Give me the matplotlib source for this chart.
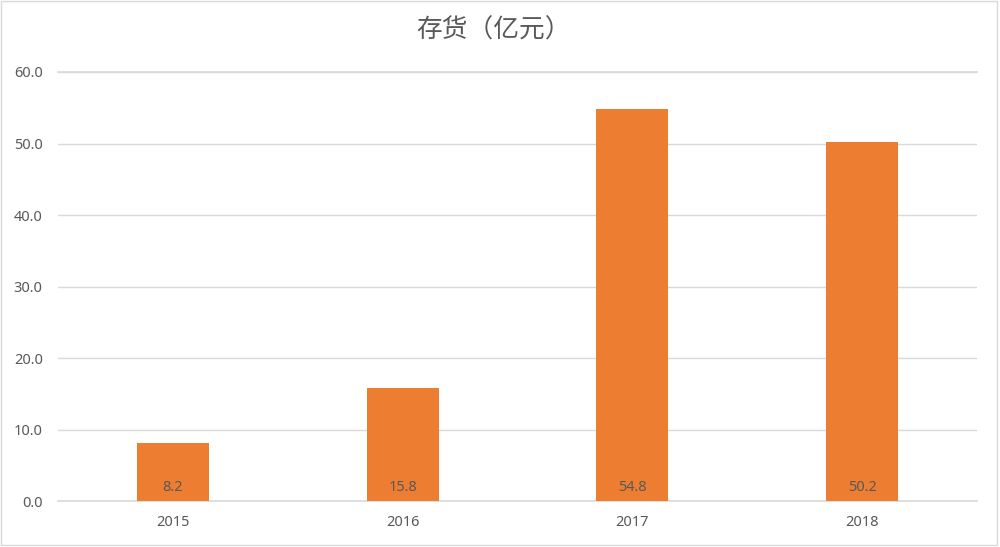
import matplotlib
matplotlib.use("Agg")
import matplotlib.pyplot as plt
from matplotlib.patches import Rectangle

plt.rcParams['font.family'] = ['Noto Sans CJK SC', 'DejaVu Sans']

years = ["2015", "2016", "2017", "2018"]
inventory = [8.2, 15.8, 54.8, 50.2]
title = "存货（亿元）"
yticks = [0, 10, 20, 30, 40, 50, 60]

bar_color = "#ED7D31"
text_color = "#595959"
grid_color = "#D9D9D9"

fig = plt.figure(figsize=(10, 5.47), dpi=100)
ax = fig.add_axes([0.058, 0.0832, 0.919, 0.7852])

x = list(range(len(years)))
bars = ax.bar(x, inventory, width=0.313, color=bar_color, zorder=3)

ax.set_xlim(-0.5, len(years) - 0.5)
ax.set_ylim(0, 60)
ax.set_yticks(yticks)
ax.set_yticklabels([f"{v:.1f}" for v in yticks], fontfamily='Noto Sans',
                   fontsize=10.5, color=text_color)
ax.set_xticks(x)
ax.set_xticklabels(years, fontfamily='Noto Sans', fontsize=10.5, color=text_color)
ax.tick_params(axis='y', length=0, pad=11)
ax.tick_params(axis='x', length=0, pad=10)

ax.grid(axis='y', color=grid_color, linewidth=1, zorder=0)
ax.axhline(0, color=grid_color, linewidth=1.2, zorder=2, clip_on=False)
ax.axhline(60, color=grid_color, linewidth=1.2, zorder=2, clip_on=False)
for s in ax.spines.values():
    s.set_visible(False)

for xi, v in zip(x, inventory):
    ax.annotate(f"{v:.1f}", xy=(xi, 0), xytext=(0, 10.4), textcoords='offset points',
                ha='center', va='center', fontfamily='Noto Sans', fontsize=10.5,
                color=text_color, zorder=4)

fig.text(0.493, 1 - 31 / 547, title, ha='center', va='center',
         fontsize=18.5, color=text_color)

fig.patches.append(Rectangle((1 / 1000, 2 / 547), 996 / 1000, 544 / 547,
                             transform=fig.transFigure, fill=False,
                             edgecolor=grid_color, linewidth=1))

fig.savefig("out.png", dpi=100)
